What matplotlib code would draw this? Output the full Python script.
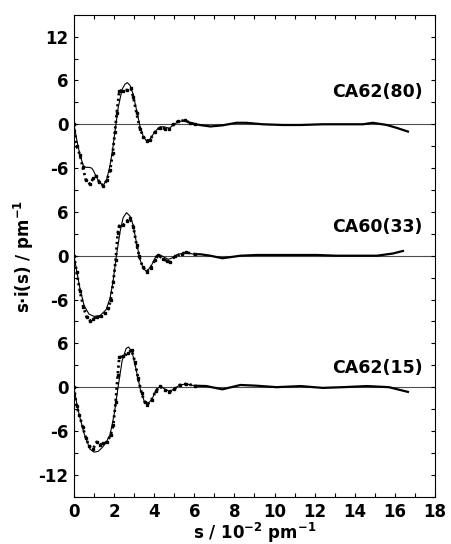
import numpy as np
import matplotlib
matplotlib.use('Agg')
from matplotlib import pyplot as plt
from matplotlib.ticker import MultipleLocator

# ~~~~~~~~~~~~~~ data ~~~~~~~~~~~~~~
names = ['CA62(80)', 'CA60(33)', 'CA62(15)']
offsets = [36, 18, 0]          # vertical shift of each curve
label_y = [4.4, 4.0, 2.6]      # label height above its own zero line

# experimental curves (dots + noisy tail)
s_exp_top = [0, .13, .3, .43, .6, .8, .96, 1.1, 1.26, 1.46, 1.63, 1.8, 1.93, 2.04, 2.13, 2.26,
             2.46, 2.66, 2.84, 2.96, 3.12, 3.29, 3.46, 3.62, 3.79, 4.04, 4.29, 4.53, 4.75, 4.95,
             5.2, 5.53, 5.78, 6.03, 6.4, 6.8, 7.4, 8.1, 8.6, 9.4, 10.4, 11.3, 12.4, 13.4, 14.4,
             14.9, 15.6, 16.1, 16.65]
y_exp_top = [0, -3.0, -4.2, -5.8, -7.7, -8.2, -7.4, -7.1, -7.9, -8.4, -7.7, -6.3, -4.0, -1.1, 1.5,
             4.6, 4.6, 4.7, 4.9, 3.7, 1.5, -0.6, -1.7, -2.3, -2.1, -1.05, -0.45, -0.6, -0.7, 0.0,
             0.4, 0.55, 0.2, 0.0, -0.15, -0.3, -0.15, 0.2, 0.2, 0.0, -0.1, -0.1, 0.0, 0.0, 0.0,
             0.2, -0.1, -0.5, -1.0]

s_exp_mid = [0, .13, .3, .47, .63, .8, .96, 1.13, 1.33, 1.54, 1.71, 1.83, 1.96, 2.08, 2.18, 2.26,
             2.46, 2.66, 2.79, 2.96, 3.12, 3.26, 3.42, 3.62, 3.82, 4.04, 4.2, 4.42, 4.62, 4.78,
             5.03, 5.37, 5.61, 6.03, 6.3, 6.8, 7.4, 8.3, 9.1, 10.3, 11.1, 12.1, 13.1, 14.1, 15.1,
             15.9, 16.4]
y_exp_mid = [0, -2.2, -4.9, -7.0, -8.4, -8.9, -8.6, -8.4, -8.3, -7.9, -7.2, -6.1, -3.6, -0.6, 3.1,
             4.1, 4.2, 4.8, 5.1, 4.0, 1.5, -0.1, -1.5, -2.2, -1.7, -0.6, 0.1, -0.4, -0.7, -0.9,
             -0.1, 0.3, 0.45, 0.2, 0.2, 0.0, -0.35, 0.0, 0.1, 0.1, 0.1, 0.1, 0.0, 0.0, 0.0,
             0.3, 0.65]

s_exp_bot = [0, .13, .27, .43, .6, .76, .96, 1.13, 1.3, 1.46, 1.66, 1.83, 1.96, 2.08, 2.18, 2.26,
             2.46, 2.71, 2.87, 3.04, 3.2, 3.37, 3.54, 3.65, 3.87, 4.09, 4.29, 4.53, 4.75, 4.98,
             5.28, 5.61, 6.03, 6.6, 7.4, 8.3, 9.1, 10.1, 11.3, 12.4, 13.4, 14.6, 15.7, 16.65]
y_exp_bot = [0, -2.6, -3.8, -5.4, -7.0, -8.1, -8.4, -7.5, -7.9, -7.7, -7.5, -6.5, -5.2, -2.0, 1.7,
             4.1, 4.2, 4.7, 5.1, 3.5, 1.2, -0.8, -2.1, -2.4, -1.7, -0.5, 0.1, -0.4, -0.7, -0.3,
             0.3, 0.45, 0.2, 0.15, -0.3, 0.3, 0.2, 0.0, 0.15, -0.1, 0.0, 0.15, 0.0, -0.65]

# theoretical curves (thin line)
s_th_top = [0, .15, .3, .47, .6, .75, .88, .96, 1.1, 1.26, 1.46, 1.63, 1.8, 1.93, 2.04, 2.2, 2.4,
            2.55, 2.66, 2.8, 2.95, 3.1, 3.3, 3.46, 3.62, 3.8, 4.04, 4.29, 4.5, 4.75, 4.95, 5.2,
            5.5, 5.8, 6.0]
y_th_top = [0, -2.3, -4.2, -5.7, -5.9, -5.9, -6.0, -6.3, -7.1, -7.9, -8.4, -7.6, -5.6, -3.4, -1.1,
            2.2, 4.8, 5.5, 5.7, 5.3, 4.1, 2.2, -0.4, -1.7, -2.3, -2.0, -1.0, -0.35, -0.35, -0.55,
            -0.1, 0.35, 0.5, 0.2, 0.0]

s_th_mid = [0, .15, .3, .5, .75, 1.0, 1.3, 1.6, 1.8, 1.95, 2.1, 2.3, 2.45, 2.62, 2.8, 2.95, 3.1,
            3.3, 3.45, 3.62, 3.85, 4.1, 4.3, 4.5, 4.7, 4.9, 5.1, 5.5, 5.8, 6.0]
y_th_mid = [0, -2.3, -4.5, -6.8, -8.0, -8.3, -8.2, -7.4, -5.8, -3.5, -0.3, 3.3, 5.2, 5.9, 5.4, 4.2,
            2.0, -0.6, -1.7, -2.2, -1.4, 0.0, 0.1, -0.2, -0.5, -0.3, 0.1, 0.4, 0.3, 0.2]

s_th_bot = [0, .15, .3, .5, .8, 1.0, 1.2, 1.4, 1.6, 1.8, 2.0, 2.2, 2.4, 2.6, 2.72, 2.9, 3.1, 3.3,
            3.5, 3.65, 3.9, 4.1, 4.3, 4.5, 4.7, 4.9, 5.1, 5.3, 5.6, 6.0]
y_th_bot = [0, -2.4, -4.2, -6.3, -8.5, -8.9, -8.8, -8.3, -7.6, -6.5, -3.8, 0.0, 3.6, 5.3, 5.5, 4.8,
            2.4, -0.2, -1.9, -2.4, -1.6, -0.3, 0.1, -0.2, -0.5, -0.4, 0.0, 0.3, 0.45, 0.2]

exp_s = [s_exp_top, s_exp_mid, s_exp_bot]
exp_y = [y_exp_top, y_exp_mid, y_exp_bot]
th_s = [s_th_top, s_th_mid, s_th_bot]
th_y = [y_th_top, y_th_mid, y_th_bot]

ytick_pos = [-12, -6, 0, 6, 12, 18, 24, 30, 36, 42, 48]
ytick_lab = ['-12', '-6', '0', '6', '-6', '0', '6', '-6', '0', '6', '12']
xtick_pos = [0, 2, 4, 6, 8, 10, 12, 14, 16, 18]

# ~~~~~~~~~~~~~~ plot ~~~~~~~~~~~~~~
plt.rcParams['font.family'] = ['DejaVu Sans']
plt.rcParams['font.weight'] = 'bold'
plt.rcParams['mathtext.default'] = 'bf'

fig = plt.figure(figsize=(4.51, 5.44), dpi=100)
ax = fig.add_axes([0.164, 0.086, 0.8005, 0.8864])

for i in range(3):
    off = offsets[i]
    ax.axhline(off, color='0.3', lw=0.8, zorder=1)
    s = np.array(exp_s[i])
    y = np.array(exp_y[i]) + off
    dots = s <= 6.1
    tail = s >= 5.7
    # dotted experimental part
    ax.plot(s[dots], y[dots], ls=(0, (0.8, 1.2)), lw=2.0, color='k', zorder=3)
    ax.plot(s[dots], y[dots], ls='none', marker='s', ms=1.8, color='k', zorder=3)
    ax.plot(s[tail], y[tail], color='k', lw=1.6, zorder=3)
    ax.plot(th_s[i], np.array(th_y[i]) + off, color='k', lw=0.8, zorder=2)
    ax.text(17.4, off + label_y[i], names[i], ha='right', va='center',
            fontsize=12.5, fontweight='bold')

ax.set_xlim(0, 18)
ax.set_ylim(-15.07, 50.96)
ax.set_xticks(xtick_pos)
ax.xaxis.set_minor_locator(MultipleLocator(1))
ax.set_yticks(ytick_pos)
ax.set_yticklabels(ytick_lab)
ax.yaxis.set_minor_locator(MultipleLocator(3))
ax.tick_params(which='both', direction='in', top=True, right=True, length=3, width=0.8,
               labelsize=12, pad=4)
for lab in ax.get_xticklabels() + ax.get_yticklabels():
    lab.set_fontweight('bold')
for sp in ax.spines.values():
    sp.set_linewidth(0.8)

ax.set_xlabel(r's / 10$^{-2}$ pm$^{-1}$', fontsize=12, fontweight='bold', labelpad=0)
ax.set_ylabel(r's$\cdot$i(s) / pm$^{-1}$', fontsize=12, fontweight='bold', labelpad=2)

fig.savefig('out.png', dpi=100)
